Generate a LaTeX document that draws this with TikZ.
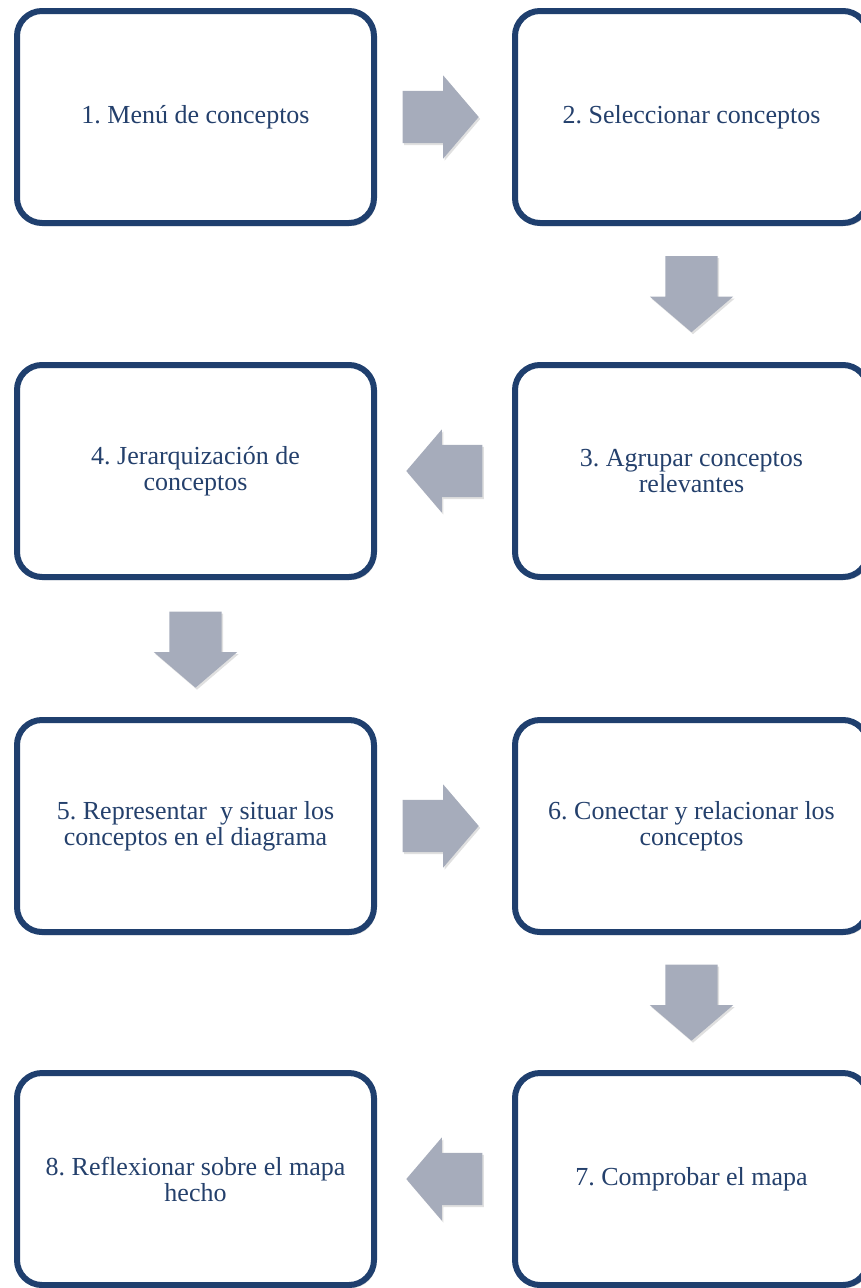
\documentclass[tikz,border=0pt]{standalone}
\usepackage{fontspec}
\setmainfont{Liberation Serif}
\usetikzlibrary{shapes.arrows, shadows, calc}
\definecolor{boxblue}{HTML}{1F3F6E}
\definecolor{textblue}{HTML}{24406C}
\definecolor{arrowgrey}{HTML}{A6ACBB}

\begin{document}
\begin{tikzpicture}[
        x = 1pt, y = -1pt,
 paso/.style = {draw=boxblue, line width=6pt, rounded corners=25pt,
                fill=white, minimum width=353pt, minimum height=212pt,
                align=center, text=textblue,
                font=\fontsize{26}{26}\selectfont\frenchspacing,
                drop shadow={shadow xshift=2pt, shadow yshift=-3pt,
                             opacity=0.3, fill=black!60}},
flecha/.style = {single arrow, fill=arrowgrey, draw=none,
                 inner xsep=0pt, inner ysep=26pt,
                 minimum height=76pt, single arrow head extend=15.5pt,
                 single arrow tip angle=99,
                 drop shadow={shadow xshift=1.5pt, shadow yshift=-2pt,
                              opacity=0.2, fill=black!60}}
                        ]
\useasboundingbox (0,0) rectangle (861,1288);
\clip (0,0) rectangle (861,1288);
% steps
    \node[paso, minimum width=357pt] (p1) at (195.5,117)  {1. Menú de conceptos};
    \node[paso] (p2) at (691.5,117)  {2. Seleccionar conceptos};
    \node[paso] (p3) at (691.5,471)  {3. Agrupar conceptos\\relevantes};
    \node[paso, minimum width=357pt] (p4) at (195.5,471)  {4. Jerarquización de\\conceptos};
    \node[paso, minimum width=357pt] (p5) at (195.5,826)  {5. Representar\ \ y situar los\\conceptos en el diagrama};
    \node[paso] (p6) at (691.5,826)  {6. Conectar y relacionar los\\conceptos};
    \node[paso] (p7) at (691.5,1179) {7. Comprobar el mapa};
    \node[paso, minimum width=357pt] (p8) at (195.5,1179) {8. Reflexionar sobre el mapa\\hecho};
% arrows between steps (the shape's centre sits ahead of its middle)
    \node[flecha]             (f12) at ($(p1.east)!0.5!(p2.west)+(-15,0)$)   {};
    \node[flecha, rotate=-90] (f23) at ($(p2.south)!0.5!(p3.north)+(0,-11)$) {};
    \node[flecha, rotate=180] (f34) at ($(p3.west)!0.5!(p4.east)+(11,0)$)    {};
    \node[flecha, rotate=-90] (f45) at ($(p4.south)!0.5!(p5.north)+(0,-10)$) {};
    \node[flecha]             (f56) at ($(p5.east)!0.5!(p6.west)+(-15,0)$)   {};
    \node[flecha, rotate=-90] (f67) at ($(p6.south)!0.5!(p7.north)+(0,-11)$) {};
    \node[flecha, rotate=180] (f78) at ($(p7.west)!0.5!(p8.east)+(11,0)$)    {};
\end{tikzpicture}
\end{document}
